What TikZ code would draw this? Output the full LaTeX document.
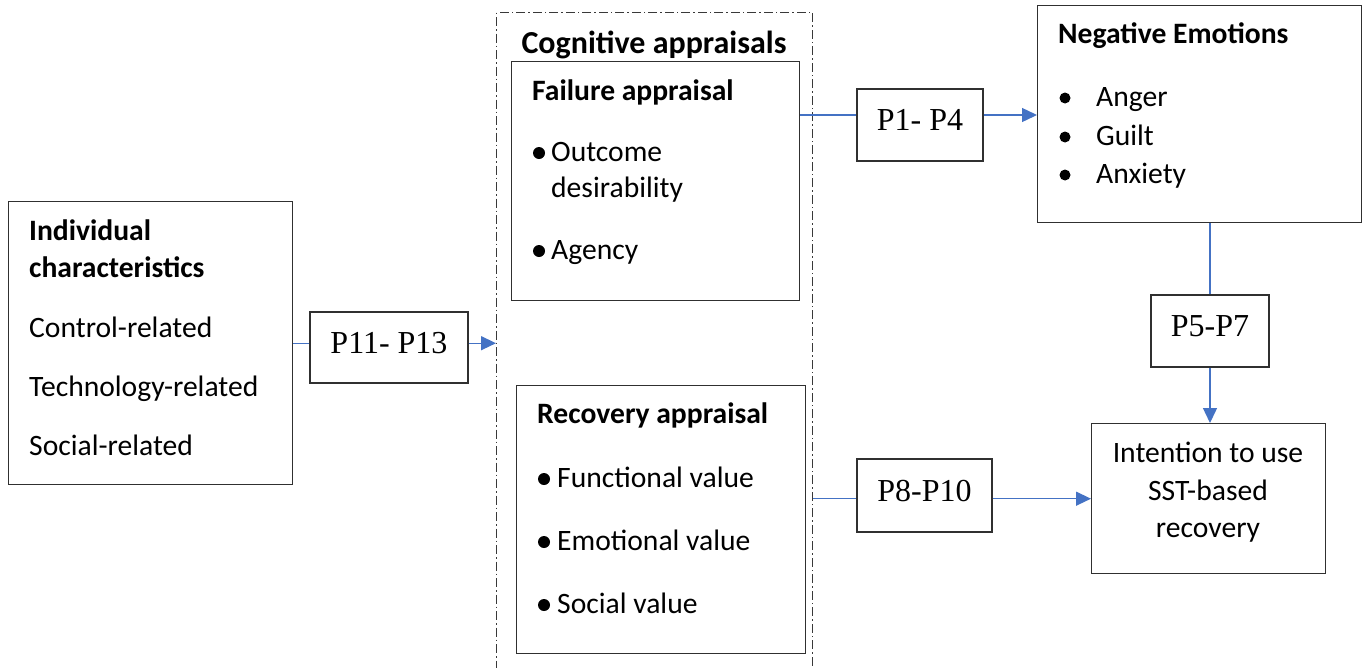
\documentclass[tikz,border=0pt]{standalone}
\usepackage{fontspec}
\setmainfont{Carlito}
\newfontfamily\timesfnt{Liberation Serif}
\usetikzlibrary{arrows.meta}
\definecolor{linkblue}{HTML}{4472C4}
\definecolor{boxgray}{HTML}{303030}

\tikzset{
	box/.style={draw=boxgray, line width=1.4pt, rectangle, inner sep=0pt, anchor=north west},
	plab/.style={box, anchor=center, text height=22pt, text depth=11pt, font=\timesfnt\fontsize{32}{32}\selectfont},
	txt/.style={anchor=base west, inner sep=0pt, font=\fontsize{29.6}{29.6}\selectfont},
	head/.style={txt, font=\fontsize{29.6}{29.6}\selectfont\bfseries},
	dot/.style={circle, fill=black, inner sep=0pt, minimum size=#1},
	dot/.default=12pt,
	lnk/.style={linkblue, line width=1.4pt},
	arr/.style={lnk, -{Triangle[length=15pt,width=14pt]}}
}

\begin{document}
\begin{tikzpicture}[x=1pt,y=-1pt]
		\useasboundingbox (0,0) rectangle (1368,667);
		% boxes
		\node[box, minimum width=284, minimum height=283] (indiv) at (8,201) {};
		\node[box, draw=gray!45!black, line width=1.1pt, dash pattern=on 9pt off 3pt on 1.5pt off 3pt,
			minimum width=316, minimum height=700] (cog) at (496,12) {};
		\node[box, minimum width=288, minimum height=239] (failure) at (511,61) {};
		\node[box, minimum width=289, minimum height=268] (recovery) at (516,385) {};
		\node[box, minimum width=324, minimum height=217] (neg) at (1037,5) {};
		\node[box, minimum width=234, minimum height=150] (intent) at (1091,423) {};
		% proposition labels
		\node[plab, minimum width=158, minimum height=71] (p11) at (389,347.5) {P11- P13};
		\node[plab, minimum width=126, minimum height=72] (p14) at (920,125) {P1- P4};
		\node[plab, minimum width=118, minimum height=72] (p57) at (1210,331) {P5-P7};
		\node[plab, minimum width=135, minimum height=73] (p810) at (924.5,495.5) {P8-P10};

		% individual characteristics
		\node[head] (ind1) at (29,240) {Individual};
		\node[head] (ind2) at (29,277) {characteristics};
		\node[txt] (ind3) at (29,337) {Control-related};
		\node[txt] (ind4) at (29,396) {Technology-related};
		\node[txt] (ind5) at (29,455) {Social-related};

		% cognitive appraisals
		\node[head, anchor=base, font=\fontsize{32}{32}\selectfont\bfseries] (cogt) at (654,53) {Cognitive appraisals};
		\node[head] (fail0) at (532,100) {Failure appraisal};
		\node[dot] (fb1) at (539,153) {};
		\node[txt] (fail1) at (551,161) {Outcome};
		\node[txt] (fail2) at (551,197) {desirability};
		\node[dot] (fb2) at (539,251) {};
		\node[txt] (fail3) at (551,259) {Agency};
		\node[head] (rec0) at (537,423) {Recovery appraisal};
		\node[dot] (rb1) at (544,479) {};
		\node[txt] (rec1) at (557,487) {Functional value};
		\node[dot] (rb2) at (544,542) {};
		\node[txt] (rec2) at (557,550) {Emotional value};
		\node[dot] (rb3) at (544,605) {};
		\node[txt] (rec3) at (557,613) {Social value};

		% negative emotions
		\node[head] (neg0) at (1058,43) {Negative Emotions};
		\node[dot=11pt] (nb1) at (1065,98) {};
		\node[txt] (neg1) at (1096,106) {Anger};
		\node[dot=11pt] (nb2) at (1065,137) {};
		\node[txt] (neg2) at (1096,145) {Guilt};
		\node[dot=11pt] (nb3) at (1065,175) {};
		\node[txt] (neg3) at (1096,183) {Anxiety};

		% intention
		\node[txt, anchor=base] (int1) at (1208,462) {Intention to use};
		\node[txt, anchor=base] (int2) at (1208,500) {SST-based};
		\node[txt, anchor=base] (int3) at (1208,537) {recovery};

		% links
		\draw[lnk] (indiv.east) -- (indiv.east -| p11.west);
		\draw[arr] (p11.east |- indiv.east) -- (indiv.east -| cog.west);
		\draw[lnk] ([yshift=10pt]p14.west -| failure.east) -- ([yshift=10pt]p14.west);
		\draw[arr] ([yshift=10pt]p14.east) -- ([yshift=10pt]p14.east -| neg.west);
		\draw[lnk] (p57.north |- neg.south) -- (p57.north);
		\draw[arr] (p57.south) -- (p57.south |- intent.north);
		\draw[lnk] (intent.west -| cog.east) -- (intent.west -| p810.west);
		\draw[arr] (intent.west -| p810.east) -- (intent.west);
\end{tikzpicture}
\end{document}
